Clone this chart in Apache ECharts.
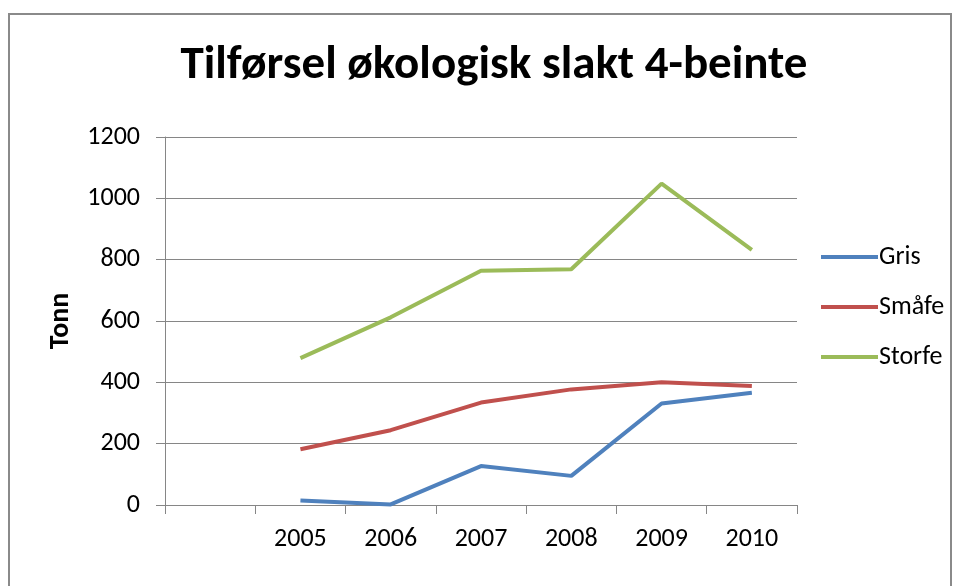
<!DOCTYPE html>
<html>
<head>
<meta charset="utf-8">
<script src="https://cdn.jsdelivr.net/npm/echarts@6/dist/echarts.min.js"></script>
<style>
  html, body { margin: 0; padding: 0; background: #fff; }
  #main { width: 958px; height: 586px; }
</style>
</head>
<body>
<div id="main"></div>
<script>
// first slot is empty in the original chart
var years = ['', '2005', '2006', '2007', '2008', '2009', '2010'];
var gris = [null, 15, 2, 127, 95, 331, 366];
var smaafe = [null, 182, 244, 334, 377, 400, 388];
var storfe = [null, 479, 612, 764, 769, 1048, 832];
var yTicks = [0, 200, 400, 600, 800, 1000, 1200];

var font = 'Calibri, Carlito, "Open Sans", "Liberation Sans", sans-serif';
var chart = echarts.init(document.getElementById('main'));

function line(name, data, color) {
  return {
    name: name,
    type: 'line',
    data: data,
    symbol: 'none',
    lineStyle: { color: color, width: 4 },
    itemStyle: { color: color },
    animation: false
  };
}

var option = {
  backgroundColor: '#fff',
  title: {
    text: 'Tilførsel økologisk slakt 4-beinte',
    left: 489,
    textAlign: 'center',
    top: 38,
    textStyle: { fontFamily: font, fontSize: 47, fontWeight: 'bold', color: '#000' }
  },
  legend: {
    orient: 'vertical',
    left: 816,
    top: 239,
    itemGap: 24,
    itemWidth: 57,
    itemHeight: 4,
    icon: 'rect',
    textStyle: { fontFamily: font, fontSize: 26, color: '#000', padding: [0, 0, 0, -4] },
    data: ['Gris', 'Småfe', 'Storfe']
  },
  graphic: [{
    type: 'rect',
    shape: { x: 9, y: 14, width: 942, height: 600 },
    style: { fill: 'none', stroke: '#8a8a8a', lineWidth: 2 },
    silent: true
  }],
  grid: { left: 165, right: 161, top: 137, bottom: 81 },
  xAxis: {
    type: 'category',
    data: years,
    boundaryGap: true,
    axisLine: { lineStyle: { color: '#868686', width: 1 } },
    axisTick: { show: true, length: 9, alignWithLabel: false, lineStyle: { color: '#868686' } },
    axisLabel: { fontFamily: font, fontSize: 26, color: '#000', margin: 21 }
  },
  yAxis: {
    type: 'value',
    min: yTicks[0],
    max: yTicks[yTicks.length - 1],
    interval: 200,
    name: 'Tonn',
    nameLocation: 'middle',
    nameGap: 90,
    nameRotate: 90,
    nameTextStyle: { fontFamily: font, fontSize: 28, fontWeight: 'bold', color: '#000' },
    axisLine: { show: true, lineStyle: { color: '#868686', width: 1 } },
    axisTick: { show: true, length: 9, lineStyle: { color: '#868686' } },
    axisLabel: {
      fontFamily: font, fontSize: 26, color: '#000', margin: 25,
      formatter: function (v) { return String(v); }
    },
    splitLine: { show: true, lineStyle: { color: '#868686', width: 1 } }
  },
  series: [
    line('Gris', gris, '#4F81BD'),
    line('Småfe', smaafe, '#C0504D'),
    line('Storfe', storfe, '#9BBB59')
  ]
};

chart.setOption(option);
</script>
</body>
</html>
